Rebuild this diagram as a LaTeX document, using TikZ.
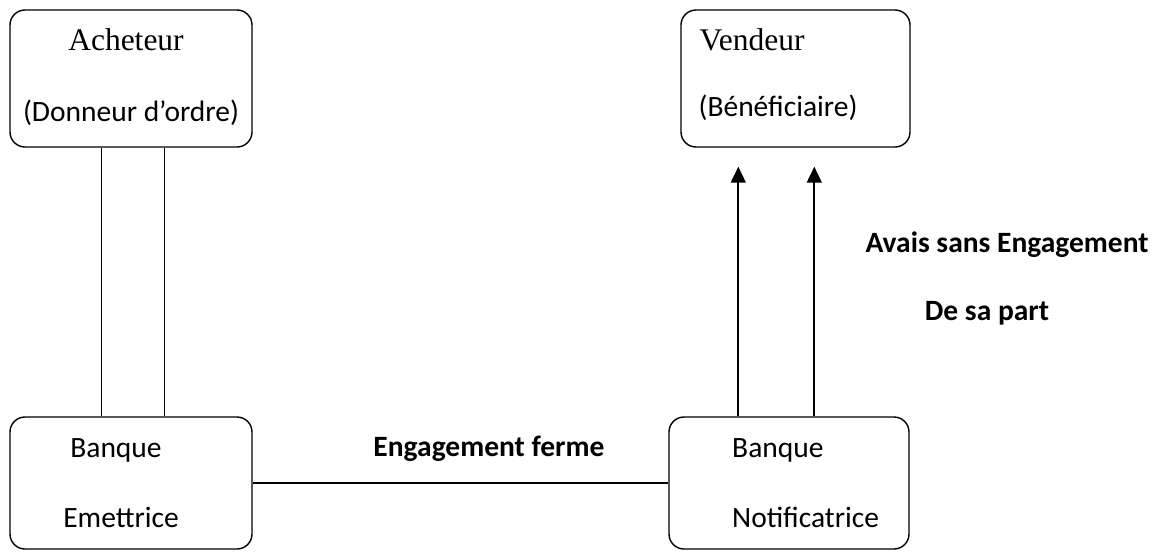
\documentclass[tikz,border=0pt]{standalone}
\usepackage{fontspec}
\setmainfont{Carlito}
\newfontfamily\serifface{Liberation Serif}
\usetikzlibrary{arrows.meta}
\begin{document}
\begin{tikzpicture}[x=1pt,y=-1pt,
  party/.style={draw, line width=1.4pt, rounded corners=15pt, inner sep=0pt},
  link/.style={line width=1.3pt},
  notice/.style={line width=1.8pt, -{Triangle[width=15pt,length=16pt]}},
  lbl/.style={inner sep=0pt, font=\fontsize{29.5}{34}\selectfont},
  bold/.style={inner sep=0pt, font=\fontsize{29.5}{34}\selectfont\bfseries},
  title/.style={inner sep=0pt, font=\serifface\fontsize{31.5}{36}\selectfont}]
\useasboundingbox (0,0) rectangle (1158,552);

% the four parties
\node[party, minimum width=242pt, minimum height=137pt] (ach) at (131,78.5) {};
\node[party, minimum width=229pt, minimum height=137pt] (vend) at (795.5,78.5) {};
\node[party, minimum width=242pt, minimum height=132pt] (em) at (131,483) {};
\node[party, minimum width=240pt, minimum height=132pt] (notif) at (789,483) {};

% box texts
\node[title] (tach) at (126,40) {Acheteur};
\node[lbl] (tdo) at (131,113) {(Donneur d’ordre)};
\node[title] (tvend) at (752,40) {Vendeur};
\node[lbl] (tben) at (778,108) {(Bénéficiaire)};
\node[lbl] (tb1) at (116,450) {Banque};
\node[lbl] (tem) at (121,517) {Emettrice};
\node[lbl, anchor=west] (tb2) at (732,450) {Banque};
\node[lbl, anchor=west] (tnot) at (732,517) {Notificatrice};

% relations
\draw[link] ([xshift=92pt]ach.south west) -- ([xshift=92pt]em.north west);
\draw[link] ([xshift=155pt]ach.south west) -- ([xshift=155pt]em.north west);
\draw[link] (em.east) -- (notif.west);
\draw[notice] ([xshift=70pt]notif.north west) -- ([xshift=58pt,yshift=-19pt]vend.south west);
\draw[notice] ([xshift=146pt]notif.north west) -- ([xshift=134pt,yshift=-19pt]vend.south west);

% relation labels
\node[bold] (eng) at (489,449) {Engagement ferme};
\node[bold] (avis) at (1007,245) {Avais sans Engagement};
\node[bold] (part) at (987,313) {De sa part};
\end{tikzpicture}
\end{document}
